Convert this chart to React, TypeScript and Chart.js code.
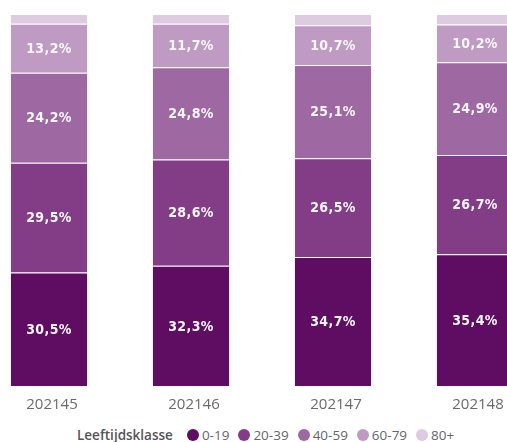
import React, { useEffect, useRef } from "react";
import { Chart, registerables } from "chart.js";

Chart.register(...registerables);

const categories = ["202145", "202146", "202147", "202148"];
const seriesLabels = ["0-19", "20-39", "40-59", "60-79", "80+"];
const age0to19 = [30.5, 32.3, 34.7, 35.4];
const age20to39 = [29.5, 28.6, 26.5, 26.7];
const age40to59 = [24.2, 24.8, 25.1, 24.9];
const age60to79 = [13.2, 11.7, 10.7, 10.2];
const age80plus = [2.6, 2.6, 3.0, 2.8];
const seriesValues = [age0to19, age20to39, age40to59, age60to79, age80plus];
const seriesColors = ["#5F0D63", "#823D86", "#9E69A2", "#BF9BC4", "#DECAE1"];
const legendTitle = "Leeftijdsklasse";

const labelPlugin = {
  id: "segmentLabels",
  afterDatasetsDraw(chart: any) {
    const ctx = chart.ctx;
    ctx.save();
    ctx.font = "bold 14px 'DejaVu Sans Condensed'";
    try {
      (ctx as any).letterSpacing = "0.4px";
    } catch (e) {}
    ctx.fillStyle = "#FAF7FB";
    ctx.textAlign = "center";
    ctx.textBaseline = "middle";
    chart.data.datasets.forEach((ds: any, i: number) => {
      if (i === 4) return;
      const meta = chart.getDatasetMeta(i);
      meta.data.forEach((el: any, j: number) => {
        const p = el.getProps(["x", "y", "base"], true);
        const v = ds.data[j] as number;
        const txt = v.toFixed(1).replace(".", ",") + "%";
        ctx.fillText(txt, p.x, (p.y + p.base) / 2 + 1);
      });
    });
    ctx.restore();
  },
};

export default function App() {
  const ref = useRef<HTMLCanvasElement>(null);
  useEffect(() => {
    if (!ref.current) return;
    const chart = new Chart(ref.current, {
      type: "bar",
      data: {
        labels: categories,
        datasets: seriesLabels.map((lab, i) => ({
          label: lab,
          data: seriesValues[i],
          backgroundColor: seriesColors[i],
          borderColor: "rgba(255,255,255,0.14)",
          borderWidth: 1,
          barPercentage: 0.55,
          categoryPercentage: 1,
        })),
      },
      options: {
        responsive: false,
        animation: false,
        layout: { padding: { top: 14, left: 0, right: 0, bottom: 0 } },
        plugins: {
          legend: { display: false },
          tooltip: { enabled: false },
        },
        scales: {
          x: {
            stacked: true,
            grid: { display: false },
            border: { display: false },
            ticks: {
              color: "#6a6a6a",
              font: { family: "'Open Sans'", size: 15 },
              padding: 2,
              labelOffset: 3,
            },
            afterFit: (scale: any) => {
              scale.height = 34;
            },
          },
          y: {
            stacked: true,
            display: false,
            min: 0,
            max: 100,
          },
        },
      },
      plugins: [labelPlugin],
    });
    return () => chart.destroy();
  }, []);

  return (
    <div
      style={{
        position: "fixed",
        left: 0,
        top: 0,
        width: 507,
        height: 442,
        overflow: "hidden",
        background: "#fff",
      }}
    >
      <canvas
        ref={ref}
        width={568}
        height={420}
        style={{ position: "absolute", left: -22, top: 0, display: "block" }}
      />
      <div
        style={{
          position: "absolute",
          left: 77,
          top: 425,
          height: 20,
          display: "flex",
          alignItems: "center",
          whiteSpace: "nowrap",
          fontFamily: "'Open Sans'",
          fontSize: 13.5,
          color: "#666",
        }}
      >
        <span style={{ fontWeight: 600, color: "#555", marginRight: 14 }}>{legendTitle}</span>
        {seriesLabels.map((lab, i) => (
          <span key={lab} style={{ display: "flex", alignItems: "center", marginRight: 9 }}>
            <span
              style={{
                width: 12,
                height: 12,
                borderRadius: "50%",
                background: seriesColors[i],
                display: "inline-block",
                marginRight: 3,
              }}
            />
            {lab}
          </span>
        ))}
      </div>
    </div>
  );
}
